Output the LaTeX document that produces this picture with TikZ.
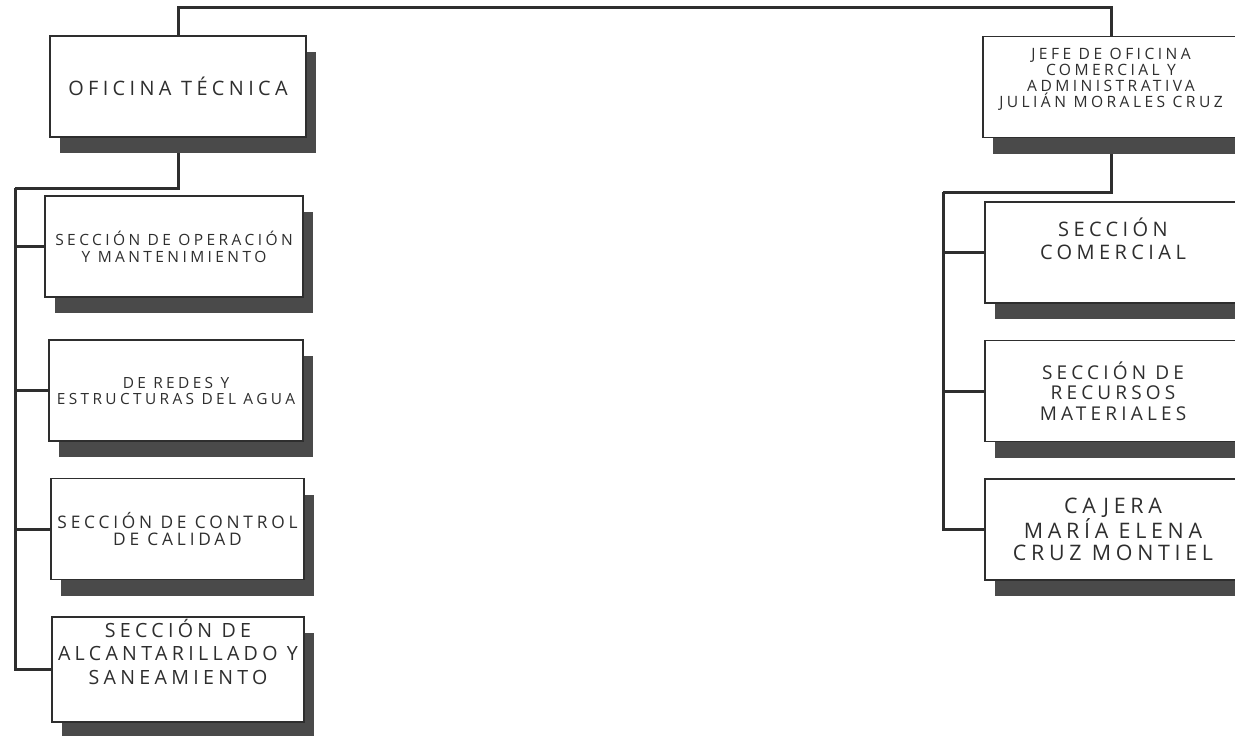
\documentclass[tikz,border=0pt]{standalone}
\usepackage{fontspec}
\setmainfont{Open Sans}[LetterSpace=22]
\usetikzlibrary{shadows,backgrounds}

\definecolor{tinta}{HTML}{2E2E2E}
\definecolor{sombra}{HTML}{4A4A4A}

\tikzset{
  cajon/.style={draw=tinta, line width=1.6pt, fill=white, align=center,
    text=tinta, minimum width=256pt, minimum height=101pt,
    inner xsep=0pt, inner ysep=2pt,
    drop shadow={shadow xshift=10pt, shadow yshift=-16pt, fill=sombra, opacity=1}},
  liga/.style={draw=tinta, line width=3pt},
  chico/.style={font=\fontsize{15.5}{17}\selectfont},
  mediano/.style={font=\fontsize{20}{23}\selectfont},
  grande/.style={font=\fontsize{19.6}{23.5}\selectfont}
}

\begin{document}
\begin{tikzpicture}[x=1pt,y=-1pt]
  \useasboundingbox (0,0) rectangle (1235,736);

  % jefaturas
  \node[cajon, font=\fontsize{19.9}{22}\selectfont] (tecnica) at (178,86.5) {OFICINA TÉCNICA};
  \node[cajon, chico, font=\fontsize{15.6}{16}\selectfont] (jefe) at (1111,87)
    {JEFE DE OFICINA\\ COMERCIAL Y\\ ADMINISTRATIVA\\ JULIÁN MORALES CRUZ\\[2pt]};

  % secciones tecnicas
  \node[cajon, chico, minimum width=258pt] (operacion) at (174,246.5)
    {SECCIÓN DE OPERACIÓN\\ Y MANTENIMIENTO};
  \node[cajon, chico, minimum width=254pt, font=\fontsize{15.4}{16}\selectfont] (redes) at (176,390.5)
    {DE REDES Y\\ ESTRUCTURAS DEL AGUA};
  \node[cajon, minimum width=253pt, font=\fontsize{17.3}{16.5}\selectfont] (calidad) at (177.5,529)
    {SECCIÓN DE CONTROL\\ DE CALIDAD};
  \node[cajon, grande, minimum width=252pt] (alcantarillado) at (178,669.5)
    {SECCIÓN DE\\ ALCANTARILLADO Y\\ SANEAMIENTO\\[12pt]};

  % secciones comerciales
  \node[cajon, mediano] (comercial) at (1113,252.5)
    {SECCIÓN\\ COMERCIAL\\[4pt]};
  \node[cajon, mediano, font=\fontsize{19}{20.5}\selectfont] (recursos) at (1113,391)
    {SECCIÓN DE\\ RECURSOS\\ MATERIALES};
  \node[cajon, mediano, font=\fontsize{21.4}{22}\selectfont] (cajera) at (1113,529.5)
    {CAJERA\\ MARÍA ELENA\\ CRUZ MONTIEL};

  \begin{scope}[on background layer]
    \coordinate (cima) at (640,7);
    \coordinate (tronco izq) at (15,188);
    \coordinate (tronco der) at (943,192);
    \draw[liga] (tecnica.north) |- (cima) -| (jefe.north);
    \draw[liga] (tecnica.south) |- (tronco izq);
    \draw[liga] (jefe.south) |- (tronco der);
    \foreach \caja in {operacion,redes,calidad,alcantarillado}
      \draw[liga] (tronco izq) |- (\caja.west);
    \foreach \caja in {comercial,recursos,cajera}
      \draw[liga] (tronco der) |- (\caja.west);
  \end{scope}
\end{tikzpicture}
\end{document}
